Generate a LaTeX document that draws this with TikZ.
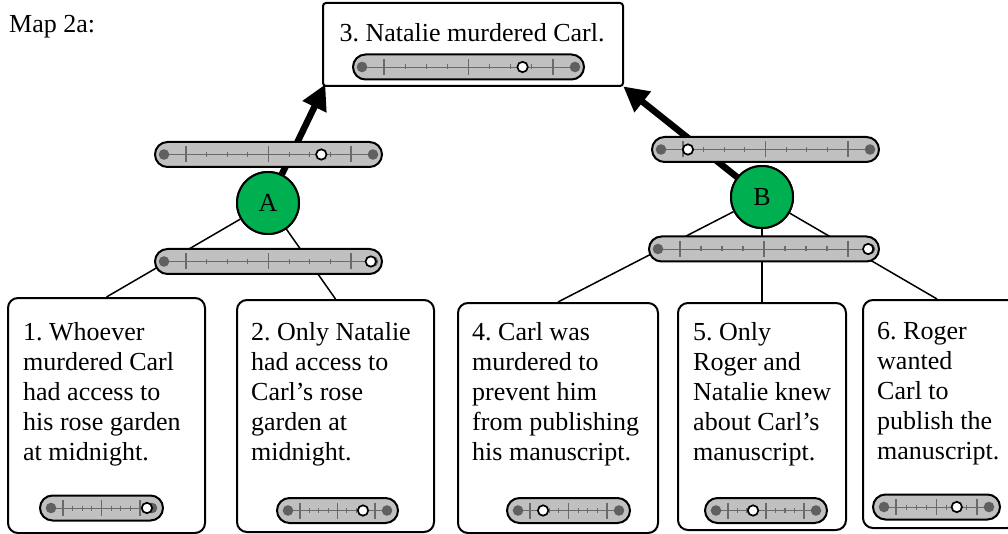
\documentclass[tikz,border=0pt]{standalone}
\usepackage{fontspec}
\setmainfont{Liberation Serif}
\usetikzlibrary{shapes.misc,arrows.meta,calc}
\frenchspacing
\definecolor{slgray}{HTML}{C0C0C0}
\definecolor{sldark}{HTML}{606060}
\definecolor{sltickc}{HTML}{6A6A6A}
\definecolor{nodegreen}{HTML}{00B050}
\tikzset{
  slbar/.style={rounded rectangle, draw=black, line width=2pt, fill=slgray, minimum height=25pt, inner sep=0pt},
  slline/.style={draw=sltickc, line width=0.8pt},
  sltick/.style={draw=sltickc, line width=1.1pt},
  sldot/.style={fill=sldark},
  slknob/.style={fill=white, draw=black, line width=1.7pt},
  claim/.style={draw=black, line width=2pt, rounded corners=10pt, fill=white, inner sep=0pt},
  claimtext/.style={font=\fontsize{26}{30}\selectfont, align=left, inner sep=0pt, anchor=north west},
  reason/.style={circle, draw=black, line width=2pt, fill=nodegreen, minimum size=62pt, inner sep=0pt, font=\fontsize{26}{30}\selectfont},
  conn/.style={draw=black, line width=1.5pt},
  support/.style={draw=black, line width=6.5pt, -{Triangle[length=25pt,width=25pt]}},
}
\newcommand\slider[7]{%
  \pgfmathsetmacro\slW{#3-#2}%
  \pgfmathsetmacro\slC{(#2+#3)/2}%
  \pgfmathsetmacro\slA{#2+#7}%
  \pgfmathsetmacro\slB{#3-#7}%
  \pgfmathsetmacro\slV{\slA+#5*(\slB-\slA)}%
  \node[slbar, minimum width=\slW pt] (#1) at (\slC,#4) {};
  \draw[slline] ($(#1.west)+(#6,0)$) -- ($(#1.east)+(-#6,0)$);
  \foreach \k in {0,...,8}{%
    \pgfmathsetmacro\sltx{\slA+\k*(\slB-\slA)/8}%
    \pgfmathsetmacro\sltk{mod(\k,4)==0 ? 8 : 2.5}%
    \draw[sltick] (\sltx,#4-\sltk) -- (\sltx,#4+\sltk);
  }
  \fill[sldot] ($(#1.west)+(#6,0)$) circle (5.3pt);
  \fill[sldot] ($(#1.east)+(-#6,0)$) circle (5.3pt);
  \draw[slknob] (\slV,#4) circle (5.2pt);
}
\begin{document}
\begin{tikzpicture}[x=1pt,y=-1pt]
\useasboundingbox (0,0) rectangle (1008,534);
% label
\node[anchor=base west, inner sep=0pt, font=\fontsize{26}{30}\selectfont] (title) at (9,33) {Map 2a:};
% boxes
\node[claim, minimum width=300pt, minimum height=83pt, rounded corners=3pt] (b3) at (473,44.5) {};
\node[claim, minimum width=197pt, minimum height=235pt] (b1) at (106.5,415.5) {};
\node[claim, minimum width=197pt, minimum height=232pt] (b2) at (335.5,416) {};
\node[claim, minimum width=200pt, minimum height=230pt] (b4) at (558,418) {};
\node[claim, minimum width=168pt, minimum height=227pt] (b5) at (762,416.5) {};
\node[claim, minimum width=154pt, minimum height=228pt] (b6) at (940,414) {};
% reason nodes
\node[reason] (A) at (268,203) {A};
\node[reason] (B) at (762,197) {B};
% connectors
\draw[conn] (A) -- (b1.north);
\draw[conn] (A) -- (b2.north);
\draw[conn] (B) -- (b4.north);
\draw[conn] (B) -- (b5.north);
\draw[conn] (B) -- ($(b6.north)+(-3,0)$);
\draw[support, shorten >=-3pt] (A) -- ($(b3.south west)+(2,0)$);
\draw[support, shorten >=-1pt] (B) -- (b3.south east);
\node[reason] at (A) {A};
\node[reason] at (B) {B};
% texts
\node[anchor=base, inner sep=0pt, font=\fontsize{26}{30}\selectfont] (t3) at (472,42) {3. Natalie murdered Carl.};
\node[claimtext] (t1) at (23,322) {1. Whoever\\murdered Carl\\had access to\\his rose garden\\at midnight.};
\node[claimtext] (t2) at (251,322) {2. Only Natalie\\had access to\\Carl’s rose\\garden at\\midnight.};
\node[claimtext] (t4) at (472,322) {4. Carl was\\murdered to\\prevent him\\from publishing\\his manuscript.};
\node[claimtext] (t5) at (693,322) {5. Only\\Roger and\\Natalie knew\\about Carl’s\\manuscript.};
\node[claimtext] (t6) at (877,322) {6. Roger\\wanted\\Carl to\\publish the\\manuscript.};
% sliders
\slider{s3}{353}{584}{67}{0.82}{10}{31}
\slider{sA1}{155}{382}{154.5}{0.82}{10}{31}
\slider{sA2}{155}{382}{261.5}{1.12}{10}{31}
\slider{sB1}{652}{879}{149.5}{0.03}{10}{31}
\slider{sB2}{649}{879}{249}{1.12}{10}{31}
\slider{s1}{40}{163}{508}{1.09}{12}{23}
\slider{s2}{277}{398}{510.5}{0.84}{12}{23}
\slider{s4}{507}{630}{510.5}{0.17}{12}{23}
\slider{s5}{705}{827}{510.5}{0.33}{12}{23}
\slider{s6}{873}{1000}{507}{0.75}{12}{23}
\end{tikzpicture}
\end{document}
